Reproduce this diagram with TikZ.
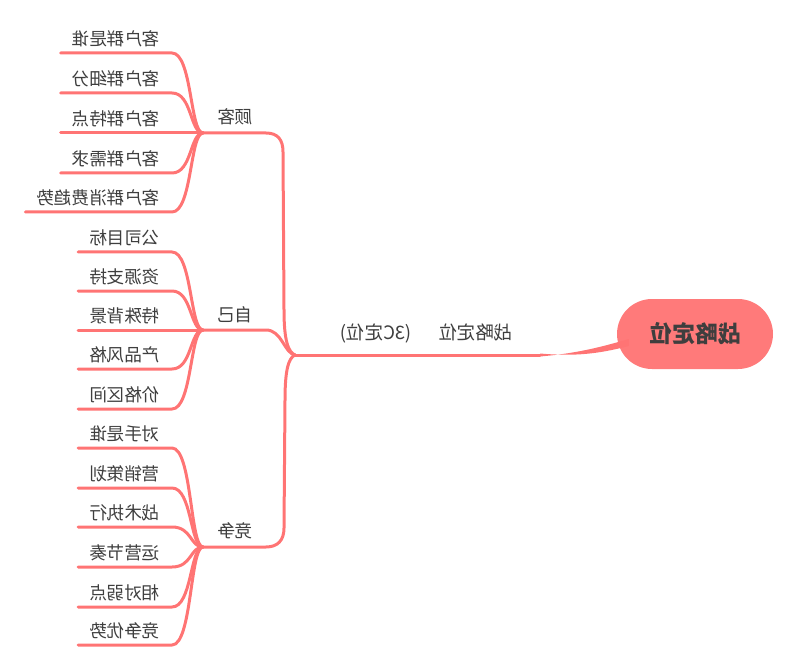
\documentclass[tikz,border=0pt]{standalone}
\usepackage{fontspec}
\usepackage{graphicx}
\newfontfamily\cjk{Noto Sans CJK SC}
\definecolor{lncol}{HTML}{FF7474}
\definecolor{rootcol}{HTML}{FF7A7A}
\definecolor{txcol}{HTML}{3E3E3E}
\tikzset{
  conn/.style={draw=lncol, line width=3pt, line cap=round},
  leaf/.style={anchor=east, inner sep=0pt, text=txcol, font=\cjk\fontsize{17.6}{20}\selectfont},
  lbl/.style={anchor=east, inner sep=0pt, text=txcol, font=\cjk\fontsize{18.5}{20}\selectfont},
  rootbox/.style={fill=rootcol, rounded corners=35pt, minimum width=156pt, minimum height=70pt, inner sep=0pt, text=txcol, font=\cjk\bfseries\fontsize{23}{26}\selectfont}
}
\begin{document}
\begin{tikzpicture}[x=1pt,y=-1pt]
\useasboundingbox (0,0) rectangle (800,668);
% junctions
\coordinate (J133) at (203,133);
\coordinate (J330) at (203,330);
\coordinate (J547) at (203,547);
\coordinate (T) at (295,355);
\coordinate (M) at (540,355);
% root
\node[rootbox] (root) at (695,334) {\reflectbox{战略定位}};
\fill[lncol] ([yshift=-1.5pt]M) .. controls (575,353.5) and (598,348) .. ([shift={(12,5)}]root.west)
   -- ([shift={(12,12)}]root.west) .. controls (598,354) and (575,356.5) .. ([yshift=1.5pt]M) -- cycle;
\draw[conn] (T) -- (M);
\node[lbl] (main) at (513,333) {\reflectbox{战略定位\hspace{27pt}(3C定位)}};
% branches
\node[leaf] (b1) at (253,117) {\reflectbox{顾客}};
\node[leaf] (b2) at (253,315) {\reflectbox{自己}};
\node[leaf] (b3) at (253,531) {\reflectbox{竞争}};
\coordinate (b1-e) at (266,133);
\coordinate (b2-e) at (266,330);
\coordinate (b3-e) at (266,547);
\draw[conn] (T) .. controls (288,352) and (284,340) .. (284,310) -- (283,152)
   .. controls (283,140) and (278,133) .. (b1-e) -- (J133);
\draw[conn] (T) .. controls (284,353) and (282,330) .. (b2-e) -- (J330);
\draw[conn] (T) .. controls (288,358) and (285,372) .. (285,400) -- (284,528)
   .. controls (284,540) and (278,547) .. (b3-e) -- (J547);
% leaves
\foreach \n/\yl/\yb/\t in {
  a1/53/133/客户群是谁, a2/93/133/客户群细分, a3/133/133/客户群特点, a4/173/133/客户群需求, a5/212/133/客户群消费趋势,
  c1/252/330/公司目标, c2/291/330/资源支持, c3/330/330/特殊背景, c4/369/330/产品风格, c5/409/330/价格区间,
  d1/448/547/对手是谁, d2/488/547/营销策划, d3/527/547/战术执行, d4/567/547/运营节奏, d5/607/547/相对弱点, d6/645/547/竞争优势}{
  \node[leaf] (\n) at (160,{\yl-14}) {\reflectbox{\t}};
  \coordinate (\n-e) at (172,\yl);
  \draw[conn] (J\yb) .. controls (190,\yb) and (192,\yl) .. (\n-e) -- ([xshift=-11pt]\n.west |- \n-e);
}
\end{tikzpicture}
\end{document}
